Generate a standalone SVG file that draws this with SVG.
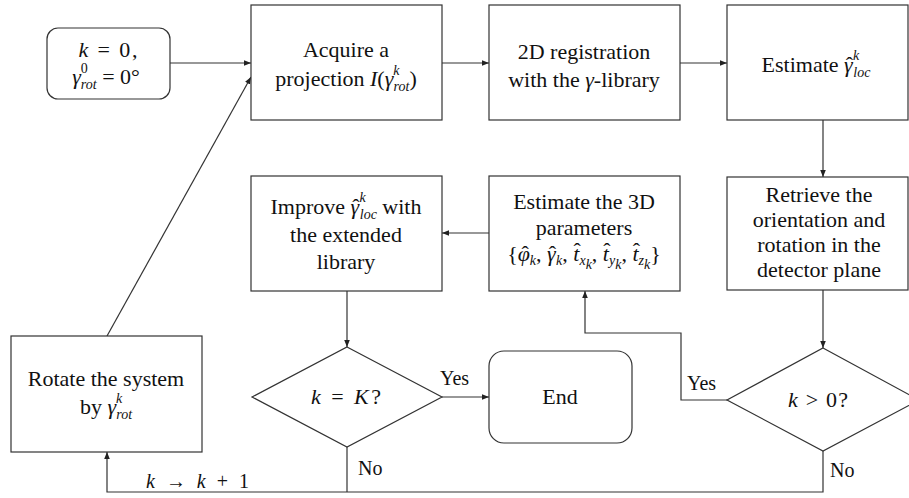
<svg xmlns="http://www.w3.org/2000/svg" width="909" height="498" viewBox="0 0 909 498" font-family="'Liberation Serif', 'DejaVu Serif', serif">
<defs>
<marker id="ah" viewBox="0 0 10 10" refX="10" refY="5" markerWidth="7" markerHeight="7" orient="auto-start-reverse" markerUnits="userSpaceOnUse">
<path d="M0,1 L10,5 L0,9 z" fill="#222"/>
</marker>
<style>
.box{fill:#fff;stroke:#333;stroke-width:1.2}
.c{fill:none;stroke:#333;stroke-width:1.2}
text{font-family:'Liberation Serif','DejaVu Serif',serif}
.t{font-size:22px;fill:#111;text-anchor:middle}
.l{font-size:20px;fill:#111}
.mi{font-style:italic}
.s{font-size:14px;font-style:italic}
.u{font-size:14px;font-style:normal}
</style>
</defs>
<rect width="909" height="498" fill="#fff"/>
<g id="connectors">
<line class="c" x1="170" y1="63" x2="251" y2="63" marker-end="url(#ah)"/>
<line class="c" x1="442" y1="63" x2="489" y2="63" marker-end="url(#ah)"/>
<line class="c" x1="680" y1="63" x2="727" y2="63" marker-end="url(#ah)"/>
<line class="c" x1="823" y1="120" x2="823" y2="177" marker-end="url(#ah)"/>
<line class="c" x1="823" y1="290" x2="823" y2="348" marker-end="url(#ah)"/>
<polyline class="c" points="727,400 681,400 681,333 585,333 585,291" marker-end="url(#ah)"/>
<line class="c" x1="489" y1="233" x2="442" y2="233" marker-end="url(#ah)"/>
<line class="c" x1="347" y1="291" x2="347" y2="347" marker-end="url(#ah)"/>
<line class="c" x1="442" y1="397" x2="489" y2="397" marker-end="url(#ah)"/>
<line class="c" x1="347" y1="447" x2="347" y2="492"/>
<polyline class="c" points="823,451 823,492 107,492 107,452" marker-end="url(#ah)"/>
<line class="c" x1="107" y1="336" x2="251" y2="77" marker-end="url(#ah)"/>
<text class="l" x="440" y="385">Yes</text>
<text class="l" x="358" y="475">No</text>
<text class="l" x="687" y="390">Yes</text>
<text class="l" x="830" y="477">No</text>
<text class="l" x="146" y="488" font-size="22" textLength="103" lengthAdjust="spacing"><tspan class="mi">k</tspan> → <tspan class="mi">k</tspan> + 1</text>
</g>
<g id="start">
<rect class="box" x="47" y="28" width="123" height="71" rx="11"/>
<text class="t" x="108" y="57" textLength="59" lengthAdjust="spacing"><tspan class="mi">k</tspan> = 0,</text>
<text class="t" x="106" y="84"><tspan class="mi">γ</tspan><tspan class="u" dy="-11">0</tspan><tspan class="s" dx="-7" dy="16">rot</tspan><tspan dy="-5">  =  0°</tspan></text>
</g>
<g id="acquire">
<rect class="box" x="251" y="5" width="191" height="115"/>
<text class="t" x="346" y="57">Acquire a</text>
<text class="t" x="346" y="86">projection <tspan class="mi">I</tspan>(<tspan class="mi">γ</tspan><tspan class="s" dy="-11">k</tspan><tspan class="s" dx="-6" dy="16">rot</tspan><tspan dy="-5">)</tspan></text>
</g>
<g id="registration">
<rect class="box" x="489" y="5" width="191" height="115"/>
<text class="t" x="584" y="59">2D registration</text>
<text class="t" x="584" y="87">with the <tspan class="mi">γ</tspan>-library</text>
</g>
<g id="estimate-loc">
<rect class="box" x="727" y="5" width="181" height="115"/>
<text class="t" x="816" y="72">Estimate <tspan class="mi">γ</tspan><tspan dx="-7">ˆ</tspan><tspan class="s" dy="-12">k</tspan><tspan class="s" dx="-6" dy="17">loc</tspan></text>
</g>
<g id="retrieve">
<rect class="box" x="727" y="177" width="181" height="113"/>
<text class="t" x="819" y="202">Retrieve the</text>
<text class="t" x="819" y="227">orientation and</text>
<text class="t" x="819" y="252">rotation in the</text>
<text class="t" x="819" y="277">detector plane</text>
</g>
<g id="estimate-3d">
<rect class="box" x="489" y="176" width="191" height="115"/>
<text class="t" x="584" y="209">Estimate the 3D</text>
<text class="t" x="584" y="235">parameters</text>
<text class="t" x="584" y="261">{<tspan class="mi">φ</tspan><tspan dx="-8.4">ˆ</tspan><tspan class="s" dx="1" dy="4">k</tspan><tspan dy="-4">, </tspan><tspan class="mi">γ</tspan><tspan dx="-7">ˆ</tspan><tspan class="s" dy="4">k</tspan><tspan dy="-4">, </tspan><tspan class="mi">t</tspan><tspan dx="-5.8" dy="-3">ˆ</tspan><tspan class="s" dx="-1.5" dy="7">x</tspan><tspan class="s" font-size="10" dy="4">k</tspan><tspan dy="-8">, </tspan><tspan class="mi">t</tspan><tspan dx="-5.8" dy="-3">ˆ</tspan><tspan class="s" dx="-1.5" dy="7">y</tspan><tspan class="s" font-size="10" dy="4">k</tspan><tspan dy="-8">, </tspan><tspan class="mi">t</tspan><tspan dx="-5.8" dy="-3">ˆ</tspan><tspan class="s" dx="-1.5" dy="7">z</tspan><tspan class="s" font-size="10" dy="4">k</tspan><tspan dy="-8">}</tspan></text>
</g>
<g id="improve">
<rect class="box" x="251" y="176" width="191" height="115"/>
<text class="t" x="346" y="214">Improve <tspan class="mi">γ</tspan><tspan dx="-7">ˆ</tspan><tspan class="s" dy="-12">k</tspan><tspan class="s" dx="-6" dy="17">loc</tspan><tspan dy="-5"> with</tspan></text>
<text class="t" x="346" y="242">the extended</text>
<text class="t" x="346" y="269">library</text>
</g>
<g id="check-K">
<polygon class="box" points="347,347 442,397 347,447 252,397"/>
<text class="t" x="346" y="404" textLength="70" lengthAdjust="spacing"><tspan class="mi">k</tspan> = <tspan class="mi">K</tspan>?</text>
</g>
<g id="end">
<rect class="box" x="489" y="351" width="143" height="92" rx="15"/>
<text class="t" x="560" y="404">End</text>
</g>
<g id="check-0">
<polygon class="box" points="823,348 919,400 823,451 727,400"/>
<text class="t" x="818" y="407" textLength="60" lengthAdjust="spacing"><tspan class="mi">k</tspan> &gt; 0?</text>
</g>
<g id="rotate">
<rect class="box" x="11" y="336" width="191" height="116"/>
<text class="t" x="106" y="386">Rotate the system</text>
<text class="t" x="106" y="414">by <tspan class="mi">γ</tspan><tspan class="s" dy="-11">k</tspan><tspan class="s" dx="-6" dy="16">rot</tspan></text>
</g>
</svg>
